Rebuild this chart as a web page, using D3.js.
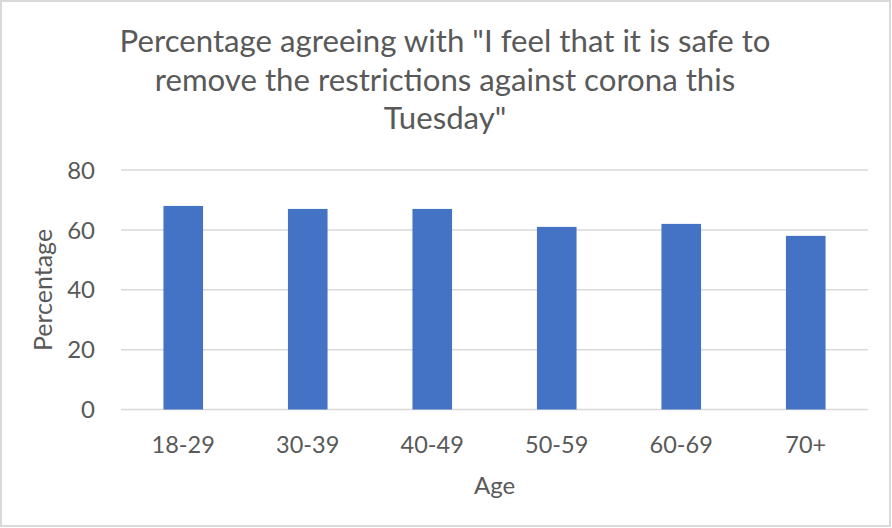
<!DOCTYPE html>
<html>
<head>
<meta charset="utf-8">
<script src="https://cdn.jsdelivr.net/npm/d3@7"></script>
<style>
  html, body { margin: 0; padding: 0; background: #fff; }
  svg { display: block; }
  text { font-family: "Lato", "Open Sans", sans-serif; fill: #595959; }
</style>
</head>
<body>
<div id="chart"></div>
<script>
const categories = ["18-29", "30-39", "40-49", "50-59", "60-69", "70+"];
const values = [68, 67, 67, 61, 62, 58];
const yTicks = [0, 20, 40, 60, 80];
const titleLines = ['Percentage agreeing with "I feel that it is safe to', 'remove the restrictions against corona this', 'Tuesday"'];
const xTitle = "Age";
const yTitle = "Percentage";

const W = 892, H = 528;
const svg = d3.select("#chart").append("svg").attr("width", W).attr("height", H);

svg.append("rect").attr("x", 1).attr("y", 1).attr("width", 889).attr("height", 525)
  .attr("fill", "#fff").attr("stroke", "#d9d9d9").attr("stroke-width", 2);

const plot = { left: 121, right: 868, top: 170, bottom: 409.5 };

const x = d3.scaleBand().domain(categories).range([plot.left, plot.right]).padding(0);
const y = d3.scaleLinear().domain([0, 80]).range([plot.bottom, plot.top]);
const barW = x.bandwidth() * 0.318;

// gridlines
svg.append("g").selectAll("line").data(yTicks).join("line")
  .attr("x1", plot.left).attr("x2", plot.right)
  .attr("y1", d => y(d)).attr("y2", d => y(d))
  .attr("stroke", "#d9d9d9").attr("stroke-width", 1.5);

// bars
svg.append("g").selectAll("rect").data(values).join("rect")
  .attr("x", (d, i) => x(categories[i]) + (x.bandwidth() - barW) / 2)
  .attr("width", barW)
  .attr("y", d => y(d))
  .attr("height", d => y(0) - y(d))
  .attr("fill", "#4472C4");

// y tick labels
svg.append("g").selectAll("text").data(yTicks).join("text")
  .attr("x", 95).attr("y", d => y(d)).attr("dy", "0.36em")
  .attr("text-anchor", "end").attr("font-size", 24).text(d => d);

// x tick labels
svg.append("g").selectAll("text").data(categories).join("text")
  .attr("x", d => x(d) + x.bandwidth() / 2).attr("y", 453)
  .attr("text-anchor", "middle").attr("font-size", 23.5).text(d => d);

// axis titles
svg.append("text").attr("x", (plot.left + plot.right) / 2 ).attr("y", 494)
  .attr("text-anchor", "middle").attr("font-size", 24).text(xTitle);
svg.append("text").attr("transform", "translate(52,290) rotate(-90)")
  .attr("text-anchor", "middle").attr("font-size", 25).text(yTitle);

// title
const title = svg.append("g");
title.selectAll("text").data(titleLines).join("text")
  .attr("x", 445).attr("y", (d, i) => 52 + i * 38.5)
  .attr("text-anchor", "middle").attr("font-size", 31.2).text(d => d);
</script>
</body>
</html>
